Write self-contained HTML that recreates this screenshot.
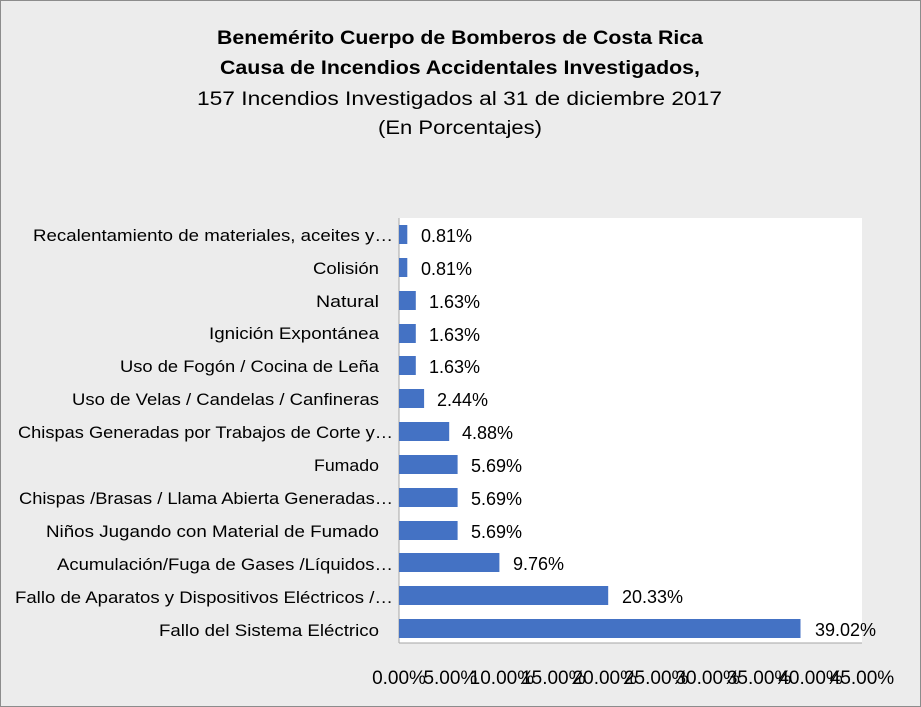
<!DOCTYPE html>
<html><head><meta charset="utf-8"><style>
body{margin:0;width:921px;height:707px;overflow:hidden;background:#fff}
svg{display:block}
</style></head><body>
<svg width="921" height="707" xmlns="http://www.w3.org/2000/svg" font-family="Liberation Sans, Arial, sans-serif">
<rect x="0.5" y="0.5" width="920" height="706" fill="#ececec" stroke="#8c8c8c"/>
<g fill="#000" font-size="19">
<text x="217" y="44" font-weight="bold" textLength="486" lengthAdjust="spacingAndGlyphs">Benemérito Cuerpo de Bomberos de Costa Rica</text>
<text x="220" y="74" font-weight="bold" textLength="480" lengthAdjust="spacingAndGlyphs">Causa de Incendios Accidentales Investigados,</text>
<text x="197" y="105" textLength="525" lengthAdjust="spacingAndGlyphs">157 Incendios Investigados al 31 de diciembre  2017</text>
<text x="378" y="134" textLength="164" lengthAdjust="spacingAndGlyphs">(En Porcentajes)</text>
</g>
<rect x="399" y="218" width="463" height="425" fill="#fff"/>
<line x1="399" y1="218" x2="399" y2="643" stroke="#a6a6a6"/>
<line x1="399" y1="643" x2="862" y2="643" stroke="#a6a6a6"/>
<g font-size="19" fill="#000">
<text x="399" y="684" text-anchor="middle">0.00%</text>
<text x="450.4" y="684" text-anchor="middle">5.00%</text>
<text x="501.9" y="684" text-anchor="middle">10.00%</text>
<text x="553.3" y="684" text-anchor="middle">15.00%</text>
<text x="604.8" y="684" text-anchor="middle">20.00%</text>
<text x="656.2" y="684" text-anchor="middle">25.00%</text>
<text x="707.7" y="684" text-anchor="middle">30.00%</text>
<text x="759.1" y="684" text-anchor="middle">35.00%</text>
<text x="810.6" y="684" text-anchor="middle">40.00%</text>
<text x="862" y="684" text-anchor="middle">45.00%</text>
</g>
<g font-size="17" fill="#000">
<text x="33" y="241" textLength="360" lengthAdjust="spacingAndGlyphs">Recalentamiento de materiales, aceites y…</text>
<text x="313" y="274" textLength="66" lengthAdjust="spacingAndGlyphs">Colisión</text>
<text x="316" y="307" textLength="63" lengthAdjust="spacingAndGlyphs">Natural</text>
<text x="209" y="339" textLength="170" lengthAdjust="spacingAndGlyphs">Ignición Expontánea</text>
<text x="120" y="372" textLength="259" lengthAdjust="spacingAndGlyphs">Uso de Fogón / Cocina de Leña</text>
<text x="72" y="405" textLength="307" lengthAdjust="spacingAndGlyphs">Uso de Velas / Candelas / Canfineras</text>
<text x="18" y="438" textLength="375" lengthAdjust="spacingAndGlyphs">Chispas Generadas por Trabajos de Corte y…</text>
<text x="314" y="471" textLength="65" lengthAdjust="spacingAndGlyphs">Fumado</text>
<text x="19" y="504" textLength="374" lengthAdjust="spacingAndGlyphs">Chispas /Brasas / Llama Abierta Generadas…</text>
<text x="46" y="537" textLength="333" lengthAdjust="spacingAndGlyphs">Niños Jugando con Material de Fumado</text>
<text x="57" y="570" textLength="336" lengthAdjust="spacingAndGlyphs">Acumulación/Fuga de Gases /Líquidos…</text>
<text x="15" y="603" textLength="378" lengthAdjust="spacingAndGlyphs">Fallo de Aparatos y Dispositivos Eléctricos /…</text>
<text x="159" y="636" textLength="220" lengthAdjust="spacingAndGlyphs">Fallo del Sistema Eléctrico</text>
</g>
<g fill="#4472c4">
<rect x="399" y="225" width="8.3" height="19"/>
<rect x="399" y="258" width="8.3" height="19"/>
<rect x="399" y="291" width="16.8" height="19"/>
<rect x="399" y="324" width="16.8" height="19"/>
<rect x="399" y="356" width="16.8" height="19"/>
<rect x="399" y="389" width="25.1" height="19"/>
<rect x="399" y="422" width="50.2" height="19"/>
<rect x="399" y="455" width="58.6" height="19"/>
<rect x="399" y="488" width="58.6" height="19"/>
<rect x="399" y="521" width="58.6" height="19"/>
<rect x="399" y="553" width="100.4" height="19"/>
<rect x="399" y="586" width="209.2" height="19"/>
<rect x="399" y="619" width="401.5" height="19"/>
</g>
<g font-size="18" fill="#000">
<text x="421" y="242">0.81%</text>
<text x="421" y="275">0.81%</text>
<text x="429" y="308">1.63%</text>
<text x="429" y="341">1.63%</text>
<text x="429" y="373">1.63%</text>
<text x="437" y="406">2.44%</text>
<text x="462" y="439">4.88%</text>
<text x="471" y="472">5.69%</text>
<text x="471" y="505">5.69%</text>
<text x="471" y="538">5.69%</text>
<text x="513" y="570">9.76%</text>
<text x="622" y="603">20.33%</text>
<text x="815" y="636">39.02%</text>
</g>
</svg>
</body></html>
